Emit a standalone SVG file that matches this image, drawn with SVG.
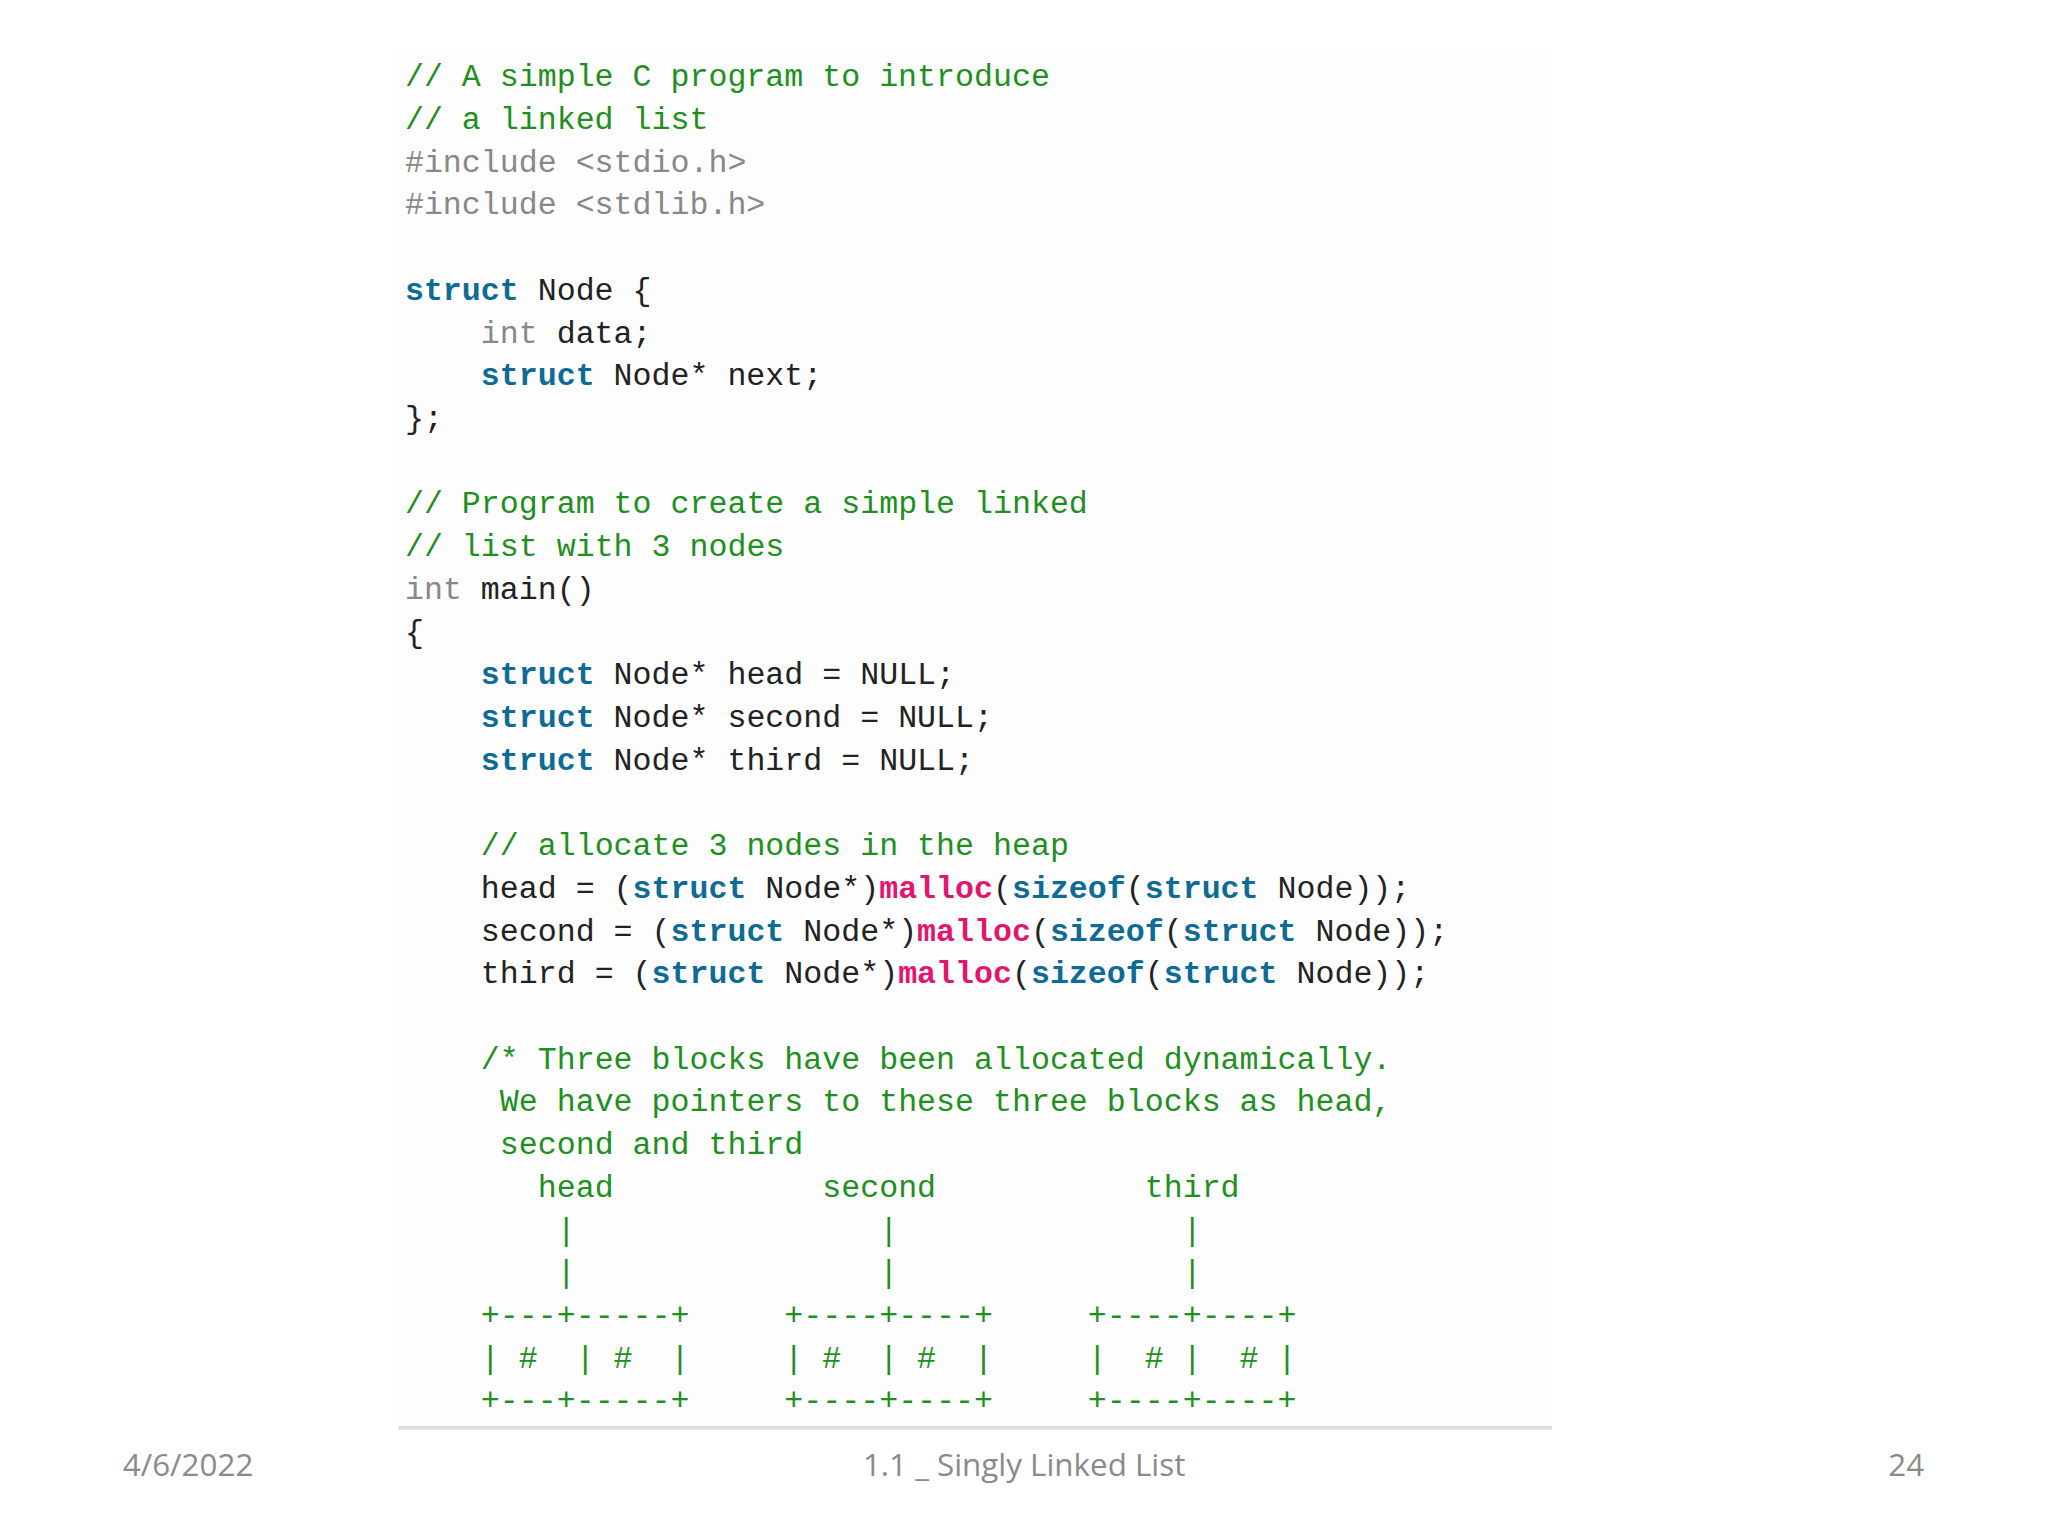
<svg xmlns="http://www.w3.org/2000/svg" width="2048" height="1536" viewBox="0 0 2048 1536">
<style>
.c{font-family:"Liberation Mono","DejaVu Sans Mono",monospace;font-size:24.2px;fill:#222;white-space:pre}
.g{fill:#1f8f1f}.k{fill:#0e6b96;font-weight:bold}.p{fill:#888}.m{fill:#e3166f;font-weight:bold}
.f{font-family:"Open Sans","Liberation Sans",sans-serif;font-size:24px;fill:#8a8a8a}
</style>
<rect width="2048" height="1536" fill="#fff"/>
<g id="code" transform="scale(1.3063)">
<rect x="305" y="38" width="883" height="1055" fill="#fdfdfd"/>
<line x1="305" y1="1093" x2="1188" y2="1093" stroke="#ddd" stroke-width="3"/>
<text class="c" xml:space="preserve">
<tspan x="310" y="66" class="g">// A simple C program to introduce</tspan>
<tspan x="310" y="98.7" class="g">// a linked list</tspan>
<tspan x="310" y="131.4" class="p">#include &lt;stdio.h&gt;</tspan>
<tspan x="310" y="164.1" class="p">#include &lt;stdlib.h&gt;</tspan>
<tspan x="310" y="229.5"><tspan class="k">struct</tspan> Node {</tspan>
<tspan x="310" y="262.2">    <tspan class="p">int</tspan> data;</tspan>
<tspan x="310" y="294.9">    <tspan class="k">struct</tspan> Node* next;</tspan>
<tspan x="310" y="327.6">};</tspan>
<tspan x="310" y="393" class="g">// Program to create a simple linked</tspan>
<tspan x="310" y="425.7" class="g">// list with 3 nodes</tspan>
<tspan x="310" y="458.4"><tspan class="p">int</tspan> main()</tspan>
<tspan x="310" y="491.1">{</tspan>
<tspan x="310" y="523.8">    <tspan class="k">struct</tspan> Node* head = NULL;</tspan>
<tspan x="310" y="556.5">    <tspan class="k">struct</tspan> Node* second = NULL;</tspan>
<tspan x="310" y="589.2">    <tspan class="k">struct</tspan> Node* third = NULL;</tspan>
<tspan x="310" y="654.6" class="g">    // allocate 3 nodes in the heap</tspan>
<tspan x="310" y="687.3">    head = (<tspan class="k">struct</tspan> Node*)<tspan class="m">malloc</tspan>(<tspan class="k">sizeof</tspan>(<tspan class="k">struct</tspan> Node));</tspan>
<tspan x="310" y="720">    second = (<tspan class="k">struct</tspan> Node*)<tspan class="m">malloc</tspan>(<tspan class="k">sizeof</tspan>(<tspan class="k">struct</tspan> Node));</tspan>
<tspan x="310" y="752.7">    third = (<tspan class="k">struct</tspan> Node*)<tspan class="m">malloc</tspan>(<tspan class="k">sizeof</tspan>(<tspan class="k">struct</tspan> Node));</tspan>
<tspan x="310" y="818.1" class="g">    /* Three blocks have been allocated dynamically.</tspan>
<tspan x="310" y="850.8" class="g">     We have pointers to these three blocks as head,</tspan>
<tspan x="310" y="883.5" class="g">     second and third</tspan>
<tspan x="310" y="916.2" class="g">       head           second           third</tspan>
<tspan x="310" y="948.9" class="g">        |                |               |</tspan>
<tspan x="310" y="981.6" class="g">        |                |               |</tspan>
<tspan x="310" y="1014.3" class="g">    +---+-----+     +----+----+     +----+----+</tspan>
<tspan x="310" y="1047" class="g">    | #  | #  |     | #  | #  |     |  # |  # |</tspan>
<tspan x="310" y="1079.7" class="g">    +---+-----+     +----+----+     +----+----+</tspan>
</text>
</g>
<g id="footer" transform="scale(1.3063)">
<text class="f" x="94" y="1130">4/6/2022</text>
<text class="f" x="784" y="1130" text-anchor="middle">1.1 _ Singly Linked List</text>
<text class="f" x="1473" y="1130" text-anchor="end">24</text>
</g>
</svg>
